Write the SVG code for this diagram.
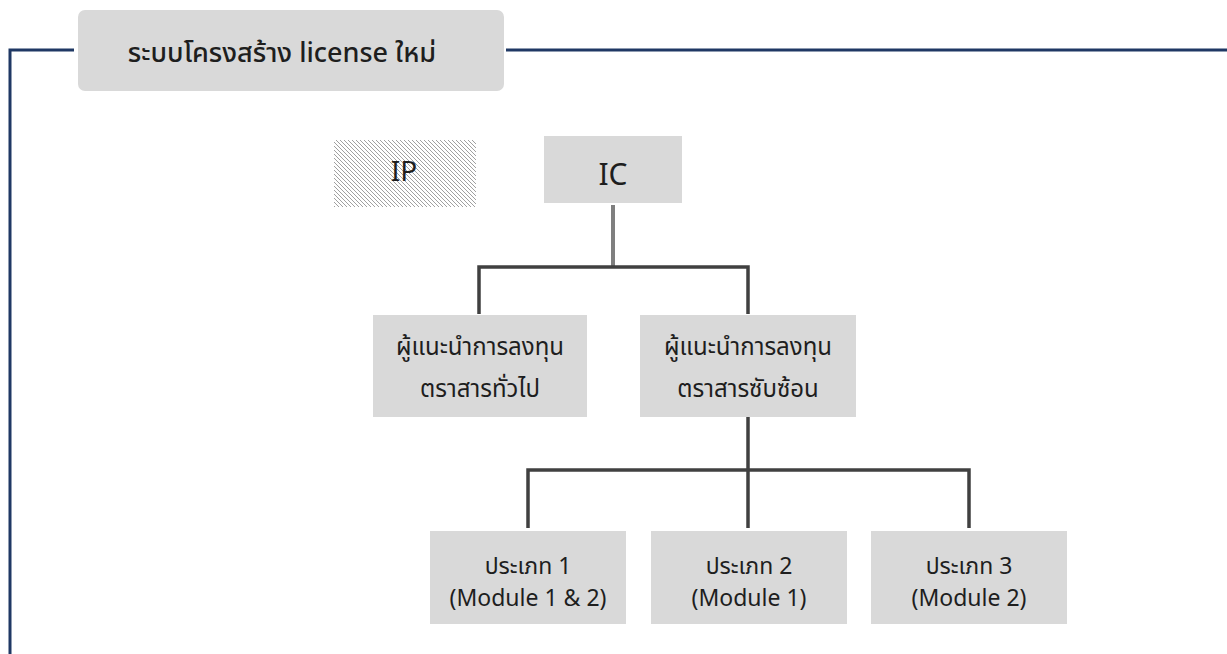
<svg xmlns="http://www.w3.org/2000/svg" width="1227" height="654" viewBox="0 0 1227 654">
<style>
.box{fill:#D9D9D9;}
.t{font-family:"Noto Sans Thai","Noto Sans","Liberation Sans",sans-serif;fill:#1e1e1e;text-anchor:middle;}
.frame{fill:none;stroke:#1F3864;stroke-width:3;}
.con{fill:none;stroke:#404040;stroke-width:3.5;}
</style>
<defs>
<pattern id="hatch" patternUnits="userSpaceOnUse" width="4" height="4">
<rect width="4" height="4" fill="#ffffff"/>
<path d="M-1,-1 L5,5 M-1,3 L1,5 M3,-1 L5,1" stroke="#a0a0a0" stroke-width="1"/>
</pattern>
</defs>
<g id="frame">
<polyline class="frame" points="74,50 10,50 10,654"/>
<line class="frame" x1="506" y1="50" x2="1227" y2="50"/>
</g>
<g id="title">
<rect class="box" x="78" y="10" width="426" height="81" rx="7"/>
<text class="t" x="282" y="62" font-size="27" font-weight="500">ระบบโครงสร้าง license ใหม่</text>
</g>
<g id="connectors">
<line x1="613" y1="205" x2="613" y2="267" stroke="#7F7F7F" stroke-width="4"/>
<polyline class="con" points="479,314 479,267 748,267 748,314"/>
<line class="con" x1="748" y1="417" x2="748" y2="470"/>
<polyline class="con" points="528,528 528,470 969,470 969,528"/>
<line class="con" x1="748" y1="470" x2="748" y2="528"/>
</g>
<g id="ip">
<rect x="334" y="140" width="142" height="67" fill="url(#hatch)"/>
<text class="t" x="404" y="181" font-size="28">IP</text>
</g>
<g id="ic">
<rect class="box" x="544" y="136" width="138" height="67"/>
<text class="t" x="613" y="185" font-size="30">IC</text>
</g>
<g id="advisor-general">
<rect class="box" x="373" y="315" width="214" height="102"/>
<text class="t" x="480" y="355" font-size="24">ผู้แนะนำการลงทุน</text>
<text class="t" x="480" y="397" font-size="24">ตราสารทั่วไป</text>
</g>
<g id="advisor-complex">
<rect class="box" x="640" y="315" width="216" height="102"/>
<text class="t" x="748" y="355" font-size="24">ผู้แนะนำการลงทุน</text>
<text class="t" x="748" y="397" font-size="24">ตราสารซับซ้อน</text>
</g>
<g id="type1">
<rect class="box" x="430" y="531" width="196" height="93"/>
<text class="t" x="528" y="574" font-size="23">ประเภท 1</text>
<text class="t" x="528" y="606" font-size="23">(Module 1 &amp; 2)</text>
</g>
<g id="type2">
<rect class="box" x="651" y="531" width="196" height="93"/>
<text class="t" x="749" y="574" font-size="23">ประเภท 2</text>
<text class="t" x="749" y="606" font-size="23">(Module 1)</text>
</g>
<g id="type3">
<rect class="box" x="871" y="531" width="196" height="93"/>
<text class="t" x="969" y="574" font-size="23">ประเภท 3</text>
<text class="t" x="969" y="606" font-size="23">(Module 2)</text>
</g>
</svg>
